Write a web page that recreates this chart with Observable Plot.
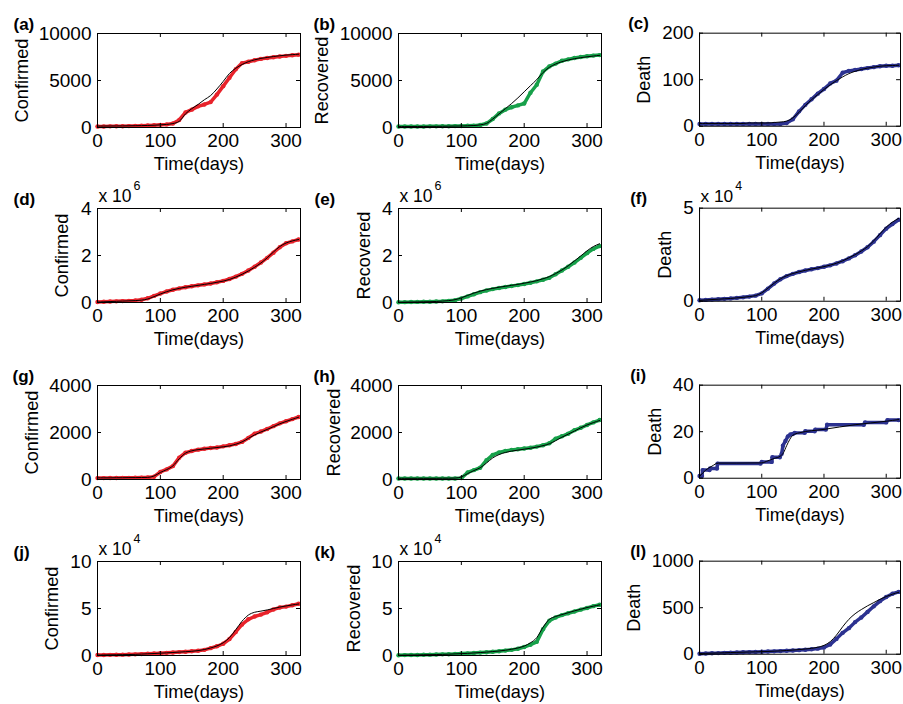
<!DOCTYPE html>
<html><head><meta charset="utf-8">
<script src="https://cdn.jsdelivr.net/npm/d3@7"></script>
<script src="https://cdn.jsdelivr.net/npm/@observablehq/plot@0.6"></script>
<style>
body{margin:0;background:#fff;}
#grid{position:relative;width:903px;height:704px;overflow:hidden;font-family:"Liberation Sans",Arial,Helvetica,sans-serif;}
.cell{position:absolute;}
.cell svg{overflow:visible;}
</style></head><body><div id="grid"></div>
<script>
// ---------- data ----------
const days = [0,10,20,30,40,50,60,70,80,90,100,110,120,130,140,150,160,170,180,190,200,210,220,230,240,250,260,270,280,290,300,310,320];
const xTickValues = [0,100,200,300];
const xLabel = "Time(days)";

const aConfirmed = [100,110,120,130,140,150,170,190,210,240,280,330,420,800,1600,1900,2250,2450,2700,3500,4400,5300,6200,6850,7000,7150,7300,7400,7480,7550,7620,7680,7750];
const aConfirmedFit = [150,155,160,165,170,180,190,200,220,240,280,330,420,650,1450,2000,2450,2950,3400,4100,4900,5750,6300,6700,7000,7200,7350,7450,7550,7630,7700,7750,7800];
const bRecovered = [100,100,100,110,110,120,120,130,140,150,160,180,200,260,420,900,1500,1900,2150,2350,2550,3700,4550,5950,6500,6800,7100,7250,7400,7500,7580,7650,7700];
const bRecoveredFit = [100,100,100,110,110,120,120,130,140,150,160,180,210,280,430,900,1450,2000,2550,3150,3800,4450,5100,5850,6400,6750,7000,7180,7320,7430,7520,7600,7680];
const cDeath = [5,5,5,5,5,5,5,5,5,5,5,5,5,5,7,15,32,46,58,70,80,92,98,115,119,121,123,125,127,129,130,130,131];
const cDeathFit = [6,6,6,6,6,6,6,6,7,7,7,7,8,9,11,18,30,44,57,68,79,89,98,106,113,118,122,125,127,129,130,130.5,131];

// (d)-(f) in units of 10^6 and 10^4
const dConfirmed = [0.02,0.03,0.04,0.05,0.06,0.07,0.09,0.12,0.18,0.28,0.38,0.47,0.54,0.6,0.65,0.69,0.73,0.77,0.81,0.86,0.92,1.0,1.1,1.22,1.36,1.52,1.7,1.9,2.12,2.35,2.52,2.6,2.68];
const dConfirmedFit = [0.02,0.03,0.04,0.05,0.06,0.07,0.08,0.1,0.15,0.25,0.36,0.46,0.54,0.6,0.65,0.69,0.73,0.77,0.81,0.86,0.91,0.98,1.08,1.2,1.34,1.5,1.68,1.9,2.15,2.38,2.53,2.62,2.68];
const eRecovered = [0.01,0.015,0.02,0.025,0.03,0.035,0.04,0.05,0.07,0.1,0.17,0.26,0.35,0.44,0.51,0.57,0.62,0.66,0.7,0.74,0.79,0.84,0.9,0.97,1.05,1.2,1.36,1.52,1.7,1.9,2.1,2.28,2.4];
const eRecoveredFit = [0.01,0.015,0.02,0.025,0.03,0.035,0.045,0.06,0.08,0.12,0.2,0.3,0.4,0.48,0.55,0.6,0.65,0.69,0.73,0.77,0.82,0.87,0.93,1.01,1.1,1.23,1.38,1.56,1.77,1.98,2.2,2.38,2.5];
const fDeath = [0.05,0.07,0.09,0.11,0.13,0.15,0.18,0.21,0.25,0.3,0.42,0.68,0.95,1.18,1.35,1.47,1.57,1.65,1.72,1.78,1.85,1.93,2.03,2.15,2.3,2.47,2.67,2.9,3.2,3.55,3.9,4.15,4.38];
const fDeathFit = [0.05,0.07,0.09,0.11,0.13,0.15,0.18,0.21,0.25,0.3,0.45,0.7,0.97,1.2,1.37,1.49,1.58,1.66,1.73,1.79,1.86,1.94,2.04,2.17,2.33,2.5,2.7,2.93,3.25,3.62,3.98,4.25,4.45];

const gConfirmed = [60,60,65,65,70,70,75,80,85,120,320,430,570,930,1140,1210,1270,1310,1340,1360,1410,1460,1510,1600,1770,1950,2040,2150,2270,2390,2480,2570,2660];
const gConfirmedFit = [70,70,70,75,75,80,80,85,90,150,300,420,580,880,1120,1220,1270,1300,1330,1360,1390,1430,1500,1600,1750,1900,2020,2130,2250,2370,2470,2560,2650];
const hRecovered = [40,40,40,40,40,40,40,40,40,40,60,300,400,500,820,1050,1150,1210,1260,1290,1320,1350,1400,1460,1540,1740,1840,1950,2100,2200,2320,2430,2530];
const hRecoveredFit = [50,50,50,50,50,50,50,55,55,60,110,250,380,500,700,920,1060,1150,1210,1250,1290,1330,1380,1440,1520,1650,1800,1930,2060,2200,2320,2420,2510];
const iDeathDays = [0,4,5,16,17,28,29,98,100,116,117,129,132,134,138,142,146,150,153,169,170,185,186,203,205,264,266,300,302,320];
const iDeath = [1,1,3.5,3.5,4.2,4.2,6.3,6.3,7,7,9,9,10.5,14,16,18,18.8,19,19.5,19.5,20.2,20.2,20.9,20.9,23,23,24,24,25,25];
const iDeathFitDays = [0,10,20,30,60,100,110,120,130,135,140,150,160,200,250,300,320];
const iDeathFit = [0.8,3.5,5.2,6.5,6.5,6.6,7.5,8.5,9.5,11,14,18.5,19.5,21,23,24.5,25.2];

// (j),(k) in units of 10^4
const jConfirmed = [0.05,0.06,0.07,0.08,0.09,0.1,0.12,0.15,0.18,0.21,0.25,0.28,0.32,0.36,0.4,0.45,0.5,0.6,0.78,0.98,1.25,1.75,2.5,3.3,3.85,4.15,4.35,4.6,4.9,5.1,5.2,5.35,5.5];
const jConfirmedFit = [0.05,0.06,0.07,0.08,0.09,0.1,0.12,0.15,0.18,0.21,0.25,0.28,0.32,0.36,0.4,0.45,0.52,0.63,0.8,1.02,1.35,1.9,2.75,3.65,4.3,4.6,4.72,4.85,5.0,5.15,5.27,5.38,5.48];
const kRecovered = [0.03,0.04,0.05,0.06,0.08,0.09,0.1,0.12,0.14,0.17,0.2,0.23,0.27,0.31,0.35,0.4,0.45,0.52,0.6,0.72,0.9,1.15,1.45,2.8,3.7,4.05,4.3,4.5,4.68,4.88,5.05,5.25,5.4];
const kRecoveredFit = [0.03,0.04,0.05,0.06,0.08,0.09,0.1,0.12,0.14,0.17,0.2,0.23,0.27,0.31,0.36,0.42,0.48,0.56,0.66,0.8,1.0,1.35,1.9,3.0,3.85,4.15,4.35,4.55,4.75,4.92,5.1,5.25,5.38];
const lDeath = [5,8,10,12,15,17,19,21,23,25,27,29,31,34,37,40,44,48,53,60,72,105,165,230,280,345,395,455,515,570,615,650,670];
const lDeathFit = [8,10,12,14,16,18,20,22,24,26,28,30,33,36,40,45,50,56,63,75,95,135,205,295,375,435,480,520,555,590,620,645,665];

const yTicksA = [0,5000,10000], yTicksC = [0,100,200], yTicksD = [0,2,4], yTicksF = [0,5];
const yTicksG = [0,2000,4000], yTicksI = [0,20,40], yTicksJ = [0,5,10], yTicksL = [0,500,1000];

// ---------- styling ----------
const RED = "#e8232b", GREEN = "#17a04a", BLUE = "#2c3290";
const FONT = "'Liberation Sans', Arial, Helvetica, sans-serif";
const colX = [0, 301, 603], rowY = [0, 175, 352, 528];
const W = 303, H = 176, ML = 97, MR = 3, MT = 33, MB = 49;
const TICK_FS = 19, LABEL_FS = 18.2;

const panels = [
  {letter:"(a)", ylabel:"Confirmed", color:RED,   x:days, y:aConfirmed, fx:days, fy:aConfirmedFit, yTicks:yTicksA, exp:null, off:82, lx:13, col:0,row:0},
  {letter:"(b)", ylabel:"Recovered", color:GREEN, x:days, y:bRecovered, fx:days, fy:bRecoveredFit, yTicks:yTicksA, exp:null, off:83, lx:12, col:1,row:0},
  {letter:"(c)", ylabel:"Death",     color:BLUE,  x:days, y:cDeath, fx:days, fy:cDeathFit, yTicks:yTicksC, exp:null, off:63, lx:25, col:2,row:0},
  {letter:"(d)", ylabel:"Confirmed", color:RED,   x:days, y:dConfirmed, fx:days, fy:dConfirmedFit, yTicks:yTicksD, exp:"6", off:42, lx:13, col:0,row:1},
  {letter:"(e)", ylabel:"Recovered", color:GREEN, x:days, y:eRecovered, fx:days, fy:eRecoveredFit, yTicks:yTicksD, exp:"6", off:41, lx:13, col:1,row:1},
  {letter:"(f)", ylabel:"Death",     color:BLUE,  x:days, y:fDeath, fx:days, fy:fDeathFit, yTicks:yTicksF, exp:"4", off:42, lx:27, col:2,row:1},
  {letter:"(g)", ylabel:"Confirmed", color:RED,   x:days, y:gConfirmed, fx:days, fy:gConfirmedFit, yTicks:yTicksG, exp:null, off:72, lx:12, col:0,row:2},
  {letter:"(h)", ylabel:"Recovered", color:GREEN, x:days, y:hRecovered, fx:days, fy:hRecoveredFit, yTicks:yTicksG, exp:null, off:71, lx:12, col:1,row:2},
  {letter:"(i)", ylabel:"Death",     color:BLUE,  x:iDeathDays, y:iDeath, fx:iDeathFitDays, fy:iDeathFit, yTicks:yTicksI, exp:null, off:52, lx:27, col:2,row:2},
  {letter:"(j)", ylabel:"Confirmed", color:RED,   x:days, y:jConfirmed, fx:days, fy:jConfirmedFit, yTicks:yTicksJ, exp:"4", off:52, lx:13, col:0,row:3},
  {letter:"(k)", ylabel:"Recovered", color:GREEN, x:days, y:kRecovered, fx:days, fy:kRecoveredFit, yTicks:yTicksJ, exp:"4", off:51, lx:13, col:1,row:3},
  {letter:"(l)", ylabel:"Death",     color:BLUE,  x:days, y:lDeath, fx:days, fy:lDeathFit, yTicks:yTicksL, exp:null, off:73, lx:27, col:2,row:3},
];

const XMAX = 323;
function drawPanel(p) {
  const y0 = p.yTicks[0], y1 = p.yTicks[p.yTicks.length - 1];
  const pts = p.x.map((d, i) => ({day: d, v: p.y[i]}));
  const fit = p.fx.map((d, i) => ({day: d, v: p.fy[i]}));
  const fw = W - ML - MR, fh = H - MT - MB;
  const yTick = (y1 - y0) * 4 / fh, xTick = XMAX * 4 / fw;
  const marks = [
    Plot.line(pts, {x: "day", y: "v", stroke: p.color, strokeWidth: 3.5, strokeLinejoin: "round", strokeLinecap: "round"}),
    Plot.dot(pts, {x: "day", y: "v", fill: p.color, r: 2.2}),
    Plot.line(fit, {x: "day", y: "v", stroke: "#000", strokeWidth: 1, curve: "monotone-x"}),
    Plot.ruleX(xTickValues, {x: d => d, y1: y0, y2: y0 + yTick, stroke: "#000"}),
    Plot.ruleX(xTickValues, {x: d => d, y1: y1, y2: y1 - yTick, stroke: "#000"}),
    Plot.ruleY(p.yTicks, {y: d => d, x1: 0, x2: xTick, stroke: "#000"}),
    Plot.ruleY(p.yTicks, {y: d => d, x1: XMAX, x2: XMAX - xTick, stroke: "#000"}),
    Plot.frame({stroke: "#000", strokeWidth: 1}),
    Plot.text(xTickValues, {x: d => d, text: d => String(d), frameAnchor: "bottom", lineAnchor: "top", dy: 6, fontSize: TICK_FS, fill: "#000"}),
    Plot.text(p.yTicks, {y: d => d, text: d => String(d), frameAnchor: "left", textAnchor: "end", dx: -6, fontSize: TICK_FS, fill: "#000"}),
    Plot.text([xLabel], {frameAnchor: "bottom", lineAnchor: "top", dy: 30, fontSize: LABEL_FS, fill: "#000"}),
    Plot.text([p.ylabel], {frameAnchor: "left", rotate: -90, lineAnchor: "top", textAnchor: "middle", dx: -p.off, fontSize: LABEL_FS, fill: "#000"}),
    Plot.text([p.letter], {frameAnchor: "top-left", textAnchor: "start", lineAnchor: "top", dx: p.lx - ML, dy: -16, fontSize: 17, fontWeight: "bold", fill: "#000"})
  ];
  if (p.exp) {
    marks.push(Plot.text(["x 10"], {frameAnchor: "top-left", textAnchor: "start", lineAnchor: "top", dx: 1, dy: -19, fontSize: 17.5, fill: "#000"}));
    marks.push(Plot.text([p.exp], {frameAnchor: "top-left", textAnchor: "start", lineAnchor: "top", dx: 36, dy: -27, fontSize: 12.5, fill: "#000"}));
  }
  const svg = Plot.plot({
    width: W, height: H,
    marginLeft: ML, marginRight: MR, marginTop: MT, marginBottom: MB,
    style: {fontFamily: FONT, fontSize: TICK_FS + "px", color: "#000", background: "transparent", overflow: "visible"},
    x: {domain: [0, XMAX], axis: null},
    y: {domain: [y0, y1], axis: null},
    marks
  });
  const div = document.createElement("div");
  div.className = "cell";
  div.style.left = colX[p.col] + "px";
  div.style.top = rowY[p.row] + "px";
  div.appendChild(svg);
  document.getElementById("grid").appendChild(div);
}
panels.forEach(drawPanel);
</script>
</body></html>
